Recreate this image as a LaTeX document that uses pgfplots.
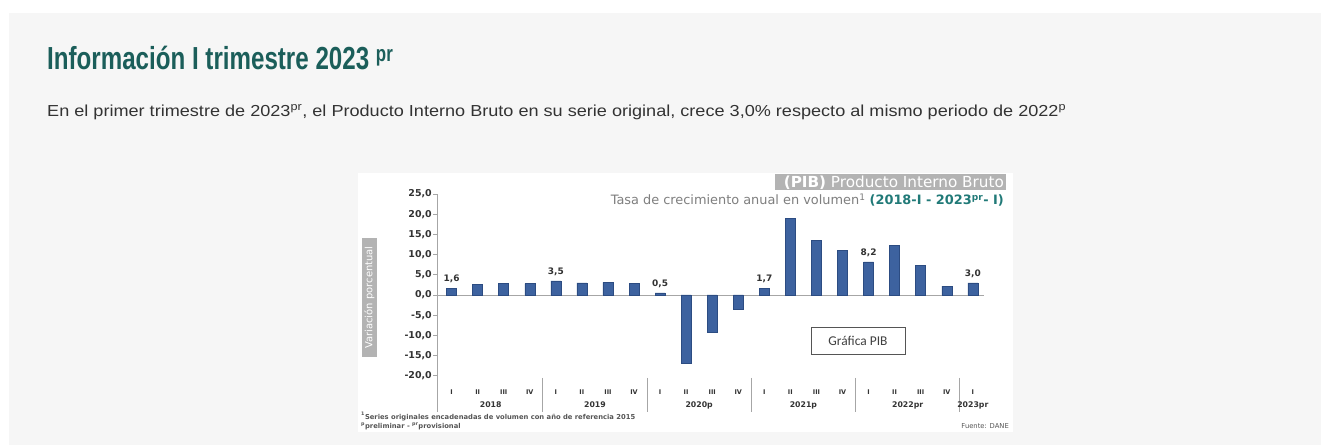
\documentclass[border=0pt]{standalone}
\usepackage{pgfplots}
\pgfplotsset{compat=1.18}
\usepackage{pgfplotstable}
\usepackage{graphicx}
\usepackage{fontspec}
\setmainfont{Liberation Sans}
\newfontfamily\chartfont{DejaVu Sans}
\newfontfamily\carlito{Carlito}
\definecolor{pagegray}{HTML}{F6F6F6}
\definecolor{headteal}{HTML}{1B5E5A}
\definecolor{bodytext}{HTML}{333333}
\definecolor{barfill}{HTML}{3D629F}
\definecolor{bardark}{HTML}{2C4C82}
\definecolor{boxgray}{HTML}{B3B3B3}
\definecolor{subgray}{HTML}{7F7F7F}
\definecolor{subteal}{HTML}{217A78}
\definecolor{axgray}{HTML}{A6A6A6}
\definecolor{ticktext}{HTML}{333333}
\definecolor{foot}{HTML}{555555}

\pgfplotstableread{
x y lab
0 1.6 {1,6}
1 2.6 {}
2 2.8 {}
3 2.8 {}
4 3.5 {3,5}
5 3.0 {}
6 3.1 {}
7 2.9 {}
8 0.5 {0,5}
9 -16.8 {}
10 -9.3 {}
11 -3.5 {}
12 1.7 {1,7}
13 18.9 {}
14 13.6 {}
15 11.0 {}
16 8.2 {8,2}
17 12.3 {}
18 7.3 {}
19 2.2 {}
20 3.0 {3,0}
}\pibdata

\begin{document}
\begin{tikzpicture}[x=1bp,y=1bp]
\useasboundingbox (0,0) rectangle (1321,-445);
\fill[white] (0,0) rectangle (1321,-445);
\fill[pagegray] (9,-13) rectangle (1321,-445);
\fill[white] (358,-173) rectangle (1013,-432);

% heading and paragraph
\node[anchor=base west, inner sep=0, text=headteal] at (47,-70)
  {\resizebox{346bp}{\height}{\bfseries\fontsize{32}{32}\selectfont Información I trimestre 2023 \textsuperscript{pr}}};
\node[anchor=base west, inner sep=0, text=bodytext] at (47,-117)
  {\resizebox{1019bp}{\height}{\fontsize{16}{16}\selectfont En el primer trimestre de 2023\textsuperscript{pr}, el Producto Interno Bruto en su serie original, crece 3,0\% respecto al mismo periodo de 2022\textsuperscript{p}}};

% chart titles
\fill[boxgray] (775,-174) rectangle (1006,-190);
\node[anchor=east, inner sep=0, text=white] at (1004,-182.3)
  {\resizebox{220bp}{!}{\chartfont\fontsize{12}{12}\selectfont\textbf{(PIB)} Producto Interno Bruto}};
\node[anchor=base east, inner sep=0] at (1004,-205)
  {\resizebox{393bp}{!}{\chartfont\fontsize{11}{11}\selectfont{\color{subgray}Tasa de crecimiento anual en volumen\textsuperscript{1} }{\color{subteal}\bfseries(2018-I - 2023\textsuperscript{pr}- I)}}};

% y label
\fill[boxgray] (362,-238) rectangle (377,-357);
\node[rotate=90, inner sep=0, text=white] at (369.5,-297.5)
  {\chartfont\fontsize{10}{10}\selectfont Variación porcentual};

\begin{axis}[
  at={(437bp,-377.8bp)}, anchor=south west,
  scale only axis, width=547bp, height=183.8bp,
  xmin=-0.56, xmax=20.43, ymin=-20.5, ymax=25,
  clip=false,
  axis x line*=bottom, axis y line*=left,
  x axis line style={draw=none},
  y axis line style={axgray, line width=0.8bp, -},
  xtick={0,...,20},
  xticklabels={I,II,III,IV,I,II,III,IV,I,II,III,IV,I,II,III,IV,I,II,III,IV,I},
  x tick style={draw=none},
  x tick label style={font=\chartfont\bfseries\fontsize{6.5}{6.5}\selectfont, text=ticktext, yshift=-4bp},
  ytick={-20,-15,...,25},
  y tick style={axgray, line width=0.6bp},
  tick align=outside, major tick length=4bp,
  y tick label style={font=\chartfont\bfseries\fontsize{9.5}{9.5}\selectfont, text=ticktext, inner sep=1bp,
    /pgf/number format/.cd, fixed, fixed zerofill, precision=1, use comma, assume math mode=true},
  extra y ticks={0}, extra y tick labels={},
  extra y tick style={grid=major, major grid style={axgray, line width=0.8bp}, y tick style={draw=none}},
]
\addplot[ybar, bar width=10bp, bar shift=0pt, draw=bardark, line width=0.5bp, fill=barfill,
  nodes near coords, point meta=explicit symbolic,
  nodes near coords style={font=\chartfont\bfseries\fontsize{9}{9}\selectfont, text=ticktext, anchor=south, yshift=2bp}]
  table[x=x, y=y, meta=lab] {\pibdata};

\foreach \s in {-0.56,3.5,7.5,11.5,15.5,19.5} {
  \edef\tmp{\noexpand\draw[axgray, line width=0.8bp] (axis cs:\s,-20.5) -- ([yshift=-34bp]axis cs:\s,-20.5);}
  \tmp
}
\foreach \c/\t in {1.5/2018, 5.5/2019, 9.5/2020p, 13.5/2021p, 17.5/2022pr, 20/2023pr} {
  \edef\tmp{\noexpand\node[font=\noexpand\chartfont\noexpand\bfseries\noexpand\fontsize{7.8}{7.8}\noexpand\selectfont, text=ticktext] at ([yshift=-27.2bp]axis cs:\c,-20.5) {\t};}
  \tmp
}
\end{axis}

% Grafica PIB box
\node[draw=foot, line width=0.9bp, fill=white, minimum width=94bp, minimum height=27bp, inner sep=0, text=black!75] at (858,-340.5)
  {\carlito\fontsize{13.5}{13.5}\selectfont Gráfica PIB};

% footnotes
\node[anchor=base west, inner sep=0, text=foot] at (361,-419)
  {\chartfont\bfseries\fontsize{6.8}{6.8}\selectfont\textsuperscript{1}Series originales encadenadas de volumen con año de referencia 2015};
\node[anchor=base west, inner sep=0, text=foot] at (361,-428.5)
  {\chartfont\bfseries\fontsize{6.8}{6.8}\selectfont\textsuperscript{p}preliminar - \textsuperscript{pr}provisional};
\node[anchor=base east, inner sep=0, text=foot] at (1009,-428.5)
  {\chartfont\fontsize{6.8}{6.8}\selectfont Fuente: DANE};
\end{tikzpicture}
\end{document}
